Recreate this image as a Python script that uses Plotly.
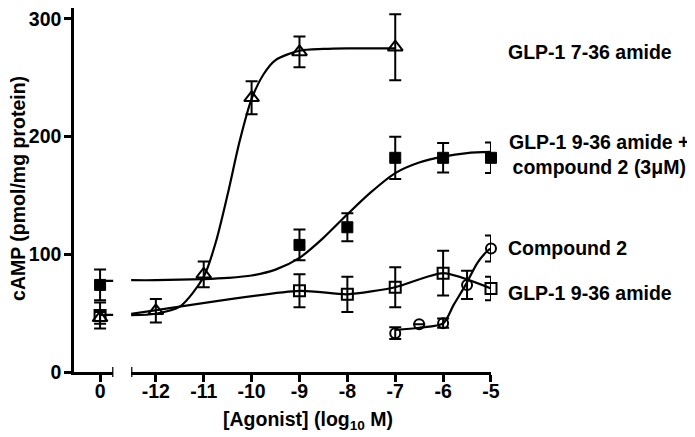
import plotly.graph_objects as go

# ---------------- data ----------------
# x = 0 means "no agonist" (left, broken segment); others are log10 M
tri_x = [0, -12, -11, -10, -9, -7]
tri_y = [46, 52, 83, 233, 272, 276]
tri_err = [5, 10, 11, 14, 13, 28]

fsq_x = [0, -9, -8, -7, -6, -5]
fsq_y = [74, 108, 123, 182, 182, 182]
fsq_err = [13, 13, 12, 18, 12.5, 13]

osq_x = [0, -9, -8, -7, -6, -5]
osq_y = [48, 69, 66, 72, 84, 71]
osq_err = [11, 14, 15, 17, 19, 10]

cir_x = [-7, -6.5, -6, -5.5, -5]
cir_y = [33, 40.5, 41.5, 74, 105]
cir_err = [5, None, 4, 12, 11]

# fitted / connecting curves
tri_fit_x = [-12.52, -12, -11.5, -11, -10.75, -10.5, -10.25, -10, -9.75, -9.5, -9, -8.5, -8, -7]
tri_fit_y = [48.3, 49.5, 55.5, 81, 110, 151, 196, 232, 253, 265, 273, 274.5, 275, 275]

fsq_fit_x = [-12.52, -12, -11, -10.5, -10, -9.5, -9, -8.5, -8, -7.5, -7, -6.5, -6, -5.5, -5]
fsq_fit_y = [78, 78, 79, 80, 82, 87, 97, 114, 134, 153, 169, 178, 183, 186, 187]

osq_fit_x = [-12.52, -9, -8, -7, -6, -5]
osq_fit_y = [49.3, 69, 66, 72, 84, 71]

cir_fit_x = [-7, -6.5, -6, -5.78, -5.53, -5.28, -5.07, -5]
cir_fit_y = [35.7, 37.6, 41.3, 57, 74, 93, 103, 105]

# short baseline segments in the "0" part of the broken axis
zero_line_x = [0, 0.278]
zero_fsq_line_y = [77.5, 77.5]
zero_base_line_y = [48.5, 48.5]

x_tick_vals = [-12, -11, -10, -9, -8, -7, -6, -5]
x_tick_text = ["-12", "-11", "-10", "-9", "-8", "-7", "-6", "-5"]
y_tick_vals = [0, 100, 200, 300]

labels = ["GLP-1 7-36 amide", "GLP-1 9-36 amide +<br>compound 2 (3μM)", "Compound 2", "GLP-1 9-36 amide"]
label_y = [271.9, 184.9, 105.6, 66.8]

# ---------------- figure ----------------
FONT = "Liberation Sans, Arial, sans-serif"
FS = 19.5
BLACK = "#000000"
LW = 2.2
PLOT_H = 364

fig = go.Figure()


def split(xs, ys, es):
    a = [(x, y, e) for x, y, e in zip(xs, ys, es) if x == 0]
    b = [(x, y, e) for x, y, e in zip(xs, ys, es) if x != 0]
    return a, b


def add_points(xs, ys, es, symbol, size, filled):
    for grp, xa in zip(split(xs, ys, es), ["x", "x2"]):
        if not grp:
            continue
        fig.add_trace(go.Scatter(
            x=[g[0] for g in grp], y=[g[1] for g in grp],
            xaxis=xa, yaxis="y", mode="markers",
            marker=dict(symbol=symbol, size=size, color=BLACK,
                        line=dict(color=BLACK, width=1 if filled else 2)),
            error_y=dict(type="data", array=[g[2] for g in grp], visible=True,
                         color=BLACK, thickness=2, width=6),
            cliponaxis=False, showlegend=False, hoverinfo="skip"))


def add_line(xs, ys, xa="x2", smoothing=0.8):
    fig.add_trace(go.Scatter(
        x=xs, y=ys, xaxis=xa, yaxis="y", mode="lines",
        line=dict(color=BLACK, width=LW, shape="spline", smoothing=smoothing),
        cliponaxis=False, showlegend=False, hoverinfo="skip"))


add_line(tri_fit_x, tri_fit_y)
add_line(fsq_fit_x, fsq_fit_y)
add_line(osq_fit_x, osq_fit_y, smoothing=0.6)
add_line(cir_fit_x, cir_fit_y)
add_line(zero_line_x, zero_fsq_line_y, "x")
add_line(zero_line_x, zero_base_line_y, "x")

add_points(fsq_x, fsq_y, fsq_err, "square", 11, True)
add_points(osq_x, osq_y, osq_err, "square-open", 11, False)
add_points(tri_x, tri_y, tri_err, "triangle-up-open", 13, False)
add_points(cir_x, cir_y, cir_err, "circle-open", 10, False)

tickfont = dict(family=FONT, size=FS, color=BLACK, weight="bold")
axis_common = dict(showline=True, linecolor=BLACK, linewidth=2.5, ticks="outside",
                   ticklen=7, tickwidth=2.5, tickcolor=BLACK, showgrid=False,
                   zeroline=False, mirror=False, tickfont=tickfont,
                   ticklabeloverflow="allow")

fig.update_layout(
    width=687, height=429,
    margin=dict(l=66, r=204, t=0, b=65),
    paper_bgcolor="white", plot_bgcolor="white",
    font=dict(family=FONT, size=FS, color=BLACK, weight="bold"),
    xaxis=dict(domain=[0, 0.0945], range=[-0.544, 0.278], tickvals=[0], ticktext=["0"],
               anchor="y", ticklabelstandoff=-7, **axis_common),
    xaxis2=dict(domain=[0.137, 1], range=[-12.516, -5.0], tickvals=x_tick_vals,
                ticktext=x_tick_text, anchor="y", ticklabelstandoff=-7, **axis_common),
    yaxis=dict(domain=[0, 1], range=[0, 309.3], tickvals=y_tick_vals, anchor="x",
               ticklabelstandoff=-1, **axis_common),
)

# axis break end caps
cap = 5 / PLOT_H
fig.add_shape(type="line", xref="x", yref="paper", x0=0.278, x1=0.278, y0=-cap, y1=cap,
              line=dict(color=BLACK, width=2.5))
fig.add_shape(type="line", xref="x2", yref="paper", x0=-12.516, x1=-12.516, y0=-cap, y1=cap,
              line=dict(color=BLACK, width=2.5))

# axis titles
fig.add_annotation(text="[Agonist] (log<sub>10</sub> M)", xref="paper", yref="paper",
                   x=0.56, y=-0.132, xanchor="center", yanchor="middle", showarrow=False,
                   font=dict(family=FONT, size=FS, color=BLACK, weight="bold"))
fig.add_annotation(text="cAMP (pmol/mg protein)", xref="paper", yref="paper",
                   x=-0.1345, y=0.5055, xanchor="center", yanchor="middle", textangle=-90,
                   showarrow=False,
                   font=dict(family=FONT, size=FS, color=BLACK, weight="bold"))

# series labels
for t, ly in zip(labels, label_y):
    if "<br>" in t:
        fig.add_annotation(text=t, xref="paper", yref="y", x=1.2596, y=ly,
                           xanchor="center", yanchor="middle", align="center",
                           showarrow=False,
                           font=dict(family=FONT, size=FS, color=BLACK, weight="bold"))
    else:
        fig.add_annotation(text=t, xref="paper", yref="y", x=1.036, y=ly,
                           xanchor="left", yanchor="middle", align="left",
                           showarrow=False,
                           font=dict(family=FONT, size=FS, color=BLACK, weight="bold"))

fig.write_html("out.html")
